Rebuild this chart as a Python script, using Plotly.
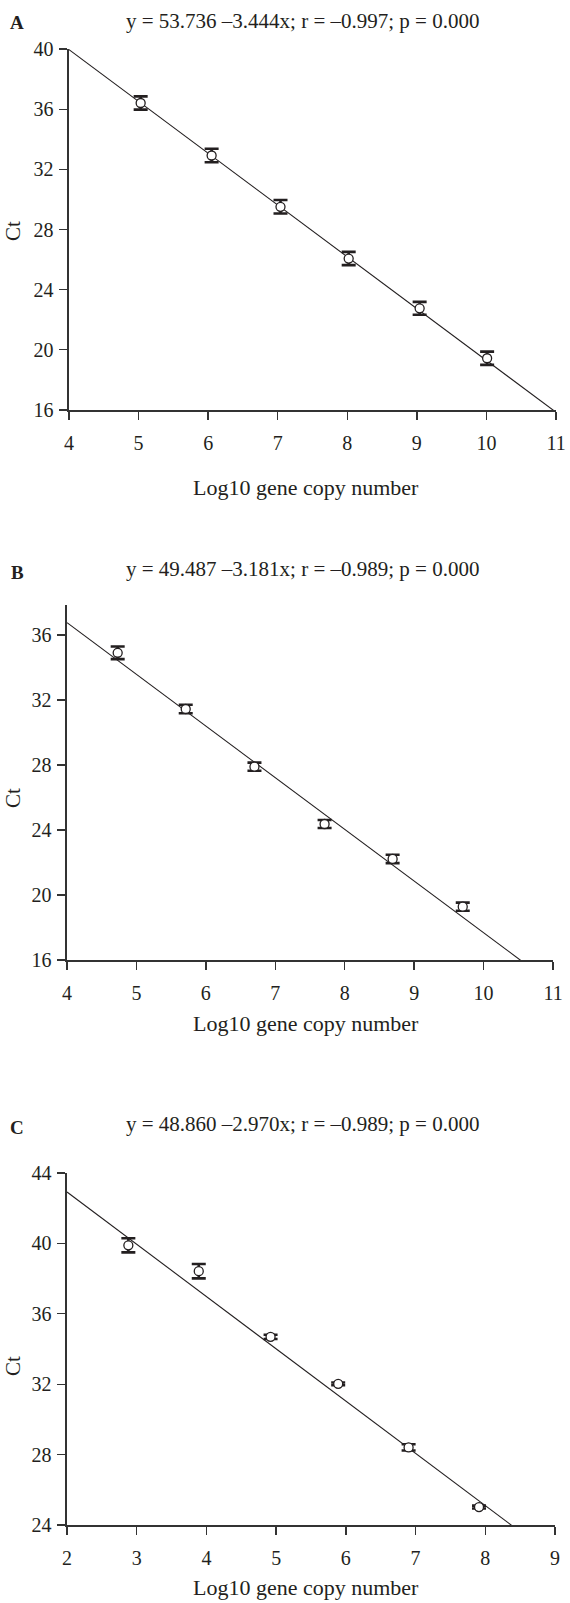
import plotly.graph_objects as go

# the page body margin is removed by a small script so the figure fills the 570x1603 window
PAGE_OFF = 0
FW, FH = 570, 1603
FONT = "Liberation Serif"
INK = "#231f20"

# ---------------- data ----------------
# Panel A
a_x = [5.03, 6.05, 7.04, 8.02, 9.04, 10.01]
a_y = [36.41, 32.92, 29.51, 26.07, 22.76, 19.44]
a_err = [0.44, 0.45, 0.45, 0.44, 0.43, 0.44]
a_intercept, a_slope = 53.736, -3.444
a_title = "y = 53.736 \u20133.444x; r = \u20130.997; p = 0.000"

# Panel B
b_x = [4.73, 5.71, 6.70, 7.71, 8.69, 9.70]
b_y = [34.91, 31.45, 27.90, 24.37, 22.22, 19.28]
b_err = [0.39, 0.26, 0.25, 0.25, 0.26, 0.25]
b_intercept, b_slope = 49.487, -3.181
b_title = "y = 49.487 \u20133.181x; r = \u20130.989; p = 0.000"

# Panel C
c_x = [2.88, 3.89, 4.92, 5.89, 6.90, 7.91]
c_y = [39.89, 38.42, 34.69, 32.02, 28.41, 25.02]
c_err = [0.40, 0.41, 0.12, 0.08, 0.18, 0.08]
c_intercept, c_slope = 48.860, -2.970
c_title = "y = 48.860 \u20132.970x; r = \u20130.989; p = 0.000"

a_xticks = [4, 5, 6, 7, 8, 9, 10, 11]
a_yticks = [16, 20, 24, 28, 32, 36, 40]
b_xticks = [4, 5, 6, 7, 8, 9, 10, 11]
b_yticks = [16, 20, 24, 28, 32, 36]
c_xticks = [2, 3, 4, 5, 6, 7, 8, 9]
c_yticks = [24, 28, 32, 36, 40, 44]

x_title = "Log10 gene copy number"
y_title = "Ct"


def fx(px):
    return (px - PAGE_OFF) / FW


def fy(py):
    return 1 - (py - PAGE_OFF) / FH


# ---------------- layout geometry (page pixels) ----------------
panels = [
    dict(name="A", x=a_x, y=a_y, err=a_err, b0=a_intercept, b1=a_slope, title=a_title,
         xt=a_xticks, yt=a_yticks, xr=[4, 11], yr=[16, 40], line_x=[4, 11],
         px=(69, 556), py=(49, 410), title_y=21, letter_y=23, ct_y=231, xt_y=488),
    dict(name="B", x=b_x, y=b_y, err=b_err, b0=b_intercept, b1=b_slope, title=b_title,
         xt=b_xticks, yt=b_yticks, xr=[4, 11], yr=[16, 37.85], line_x=[4, 10.6],
         px=(67, 553), py=(605, 960), title_y=569, letter_y=572, ct_y=798, xt_y=1023),
    dict(name="C", x=c_x, y=c_y, err=c_err, b0=c_intercept, b1=c_slope, title=c_title,
         xt=c_xticks, yt=c_yticks, xr=[2, 9], yr=[24, 44], line_x=[2, 8.45],
         px=(67, 555), py=(1173, 1525), title_y=1124, letter_y=1127, ct_y=1366, xt_y=1587),
]

fig = go.Figure()
annotations = []
layout_axes = {}

for i, p in enumerate(panels):
    suffix = "" if i == 0 else str(i + 1)
    xa, ya = "x" + suffix, "y" + suffix
    # regression line
    lx = p["line_x"]
    ly = [p["b0"] + p["b1"] * v for v in lx]
    fig.add_trace(go.Scatter(x=lx, y=ly, mode="lines", xaxis=xa, yaxis=ya,
                             line=dict(color=INK, width=1.1), showlegend=False,
                             hoverinfo="skip"))
    # points with error bars
    fig.add_trace(go.Scatter(x=p["x"], y=p["y"], mode="markers", xaxis=xa, yaxis=ya,
                             marker=dict(symbol="circle", size=9, color="white",
                                         line=dict(color=INK, width=1.3)),
                             error_y=dict(type="data", array=p["err"], visible=True,
                                          color=INK, thickness=2.6, width=7),
                             showlegend=False))
    x0, x1 = p["px"]
    y0, y1 = p["py"]
    common = dict(showgrid=False, zeroline=False, showline=True, linecolor="#333333",
                  linewidth=1.6, ticks="outside", ticklen=8, tickwidth=1.3,
                  tickcolor="#333333", tickfont=dict(family=FONT, size=20, color=INK),
                  automargin=False, fixedrange=True)
    layout_axes["xaxis" + suffix] = dict(common, domain=[fx(x0), fx(x1)], range=p["xr"],
                                         tickvals=p["xt"], anchor=ya, ticklabelstandoff=6)
    layout_axes["yaxis" + suffix] = dict(common, domain=[fy(y1), fy(y0)], range=p["yr"],
                                         tickvals=p["yt"], anchor=xa, ticklabelstandoff=2)
    # texts
    annotations.append(dict(text=p["title"], x=fx(302), y=fy(p["title_y"]), xref="paper",
                            yref="paper", showarrow=False, xanchor="center", yanchor="middle",
                            font=dict(family=FONT, size=21, color=INK)))
    annotations.append(dict(text="<b>" + p["name"] + "</b>", x=fx(17), y=fy(p["letter_y"]),
                            xref="paper", yref="paper", showarrow=False, xanchor="center",
                            yanchor="middle", font=dict(family=FONT, size=19, color=INK)))
    annotations.append(dict(text=y_title, x=fx(13), y=fy(p["ct_y"]), xref="paper",
                            yref="paper", showarrow=False, xanchor="center", yanchor="middle",
                            textangle=-90, font=dict(family=FONT, size=21, color=INK)))
    annotations.append(dict(text=x_title, x=fx(306), y=fy(p["xt_y"]), xref="paper",
                            yref="paper", showarrow=False, xanchor="center", yanchor="middle",
                            font=dict(family=FONT, size=22, color=INK)))

fig.update_layout(width=FW, height=FH, margin=dict(l=0, r=0, t=0, b=0),
                  paper_bgcolor="white", plot_bgcolor="white",
                  annotations=annotations, **layout_axes)

fig.write_html("out.html", config={"displayModeBar": False, "staticPlot": True},
               post_script="document.body.style.margin='0px';"
                           "document.body.style.overflow='hidden';")
